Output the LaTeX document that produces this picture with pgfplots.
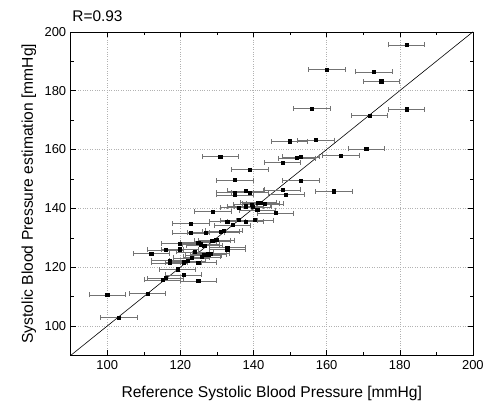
\documentclass[border=0pt]{standalone}
\usepackage{pgfplots}
\pgfplotsset{compat=1.18}
\usepackage{pgfplotstable}
\usepackage{fontspec}
\setmainfont{Liberation Sans}
\pgfplotstableread{
x y ex
181.8 195.6 5
160.0 187.2 5
172.9 186.4 5
174.9 183.2 5
155.9 174.0 5
181.8 173.7 5
171.7 171.5 5
149.8 162.8 5
157.0 163.2 5
170.8 160.2 5
130.9 157.6 5
151.8 157.1 5
152.9 157.5 5
163.9 158.0 5
147.9 155.6 5
138.9 153.2 5
134.9 149.6 5
152.9 149.4 5
161.9 145.8 5
134.9 145.3 5
134.9 144.6 5
137.8 145.9 5
138.9 145.3 5
147.9 146.3 5
148.9 144.7 5
128.9 138.9 5
136.0 140.2 5
137.8 140.7 5
139.5 141.3 5
141.3 142.0 5
142.0 141.8 5
143.0 141.5 5
141.0 139.4 5
139.8 140.5 5
146.0 138.4 5
132.8 135.5 5
134.2 134.3 5
136.0 136.0 5
137.8 135.5 5
140.3 136.0 5
122.9 134.8 5
122.9 131.7 5
126.9 131.8 5
131.0 132.0 5
131.9 132.3 5
119.9 128.1 5
124.9 128.4 5
125.5 127.8 5
126.5 127.3 5
128.7 128.9 5
129.8 129.2 5
112.0 124.6 5
115.9 125.9 5
119.9 126.1 5
124.0 125.2 5
132.8 126.7 5
132.8 126.1 5
117.0 122.2 5
117.0 121.5 5
120.8 121.7 5
121.9 122.1 5
123.0 123.2 5
124.9 121.6 5
125.9 123.5 5
126.3 124.1 5
127.6 124.4 5
128.3 124.6 5
119.2 119.3 5
120.8 117.4 5
115.9 116.3 5
115.1 115.7 5
124.9 115.3 5
100.0 110.6 5
111.0 111.1 5
103.1 102.9 5
}\datatable
\begin{document}
\begin{tikzpicture}
\begin{axis}[
  scale only axis,
  width=404pt, height=325pt,
  xmin=90, xmax=200, ymin=90, ymax=200,
  xtick={100,120,...,200}, ytick={100,120,...,200},
  minor tick num=1,
  tick align=inside,
  major tick length=5pt, minor tick length=3pt,
  tick style={black, line width=0.5pt},
  axis line style={black, line width=0.6pt},
  grid=major,
  major grid style={dotted, black!30, line width=0.4pt},
  /pgf/number format/assume math mode=true,
  ticklabel style={font=\fontsize{13}{15}\selectfont},
  xticklabel style={yshift=-2pt},
  yticklabel style={xshift=-1pt},
  label style={font=\fontsize{15.7}{18}\selectfont},
  xlabel={Reference Systolic Blood Pressure [mmHg]},
  ylabel={Systolic Blood Pressure estimation [mmHg]},
  xlabel style={at={([yshift=-38pt]axis description cs:0.5,0)}, anchor=center},
  ylabel style={at={([xshift=-42pt]axis description cs:0,0.5)}, anchor=center},
  clip=false,
]
\addplot[black, line width=0.6pt] coordinates {(90,90) (200,200)};
\addplot[only marks, mark=square*, mark size=1.6pt, black,
  error bars/.cd, x dir=both, x explicit,
  error bar style={black!55, line width=0.5pt},
  error mark options={black!55, mark size=2.5pt, line width=0.5pt, rotate=90}]
  table[x=x, y=y, x error=ex] {\datatable};
\node[anchor=south west, inner sep=0pt, font=\fontsize{15.5}{18}\selectfont] at ([xshift=1.5pt, yshift=10pt]axis description cs:0,1) {R=0.93};
\path (axis description cs:0,0) ++(-71pt,-48pt) coordinate (bl);
\path (axis description cs:1,1) ++(12pt,32pt) coordinate (tr);
\end{axis}
\end{tikzpicture}
\end{document}
